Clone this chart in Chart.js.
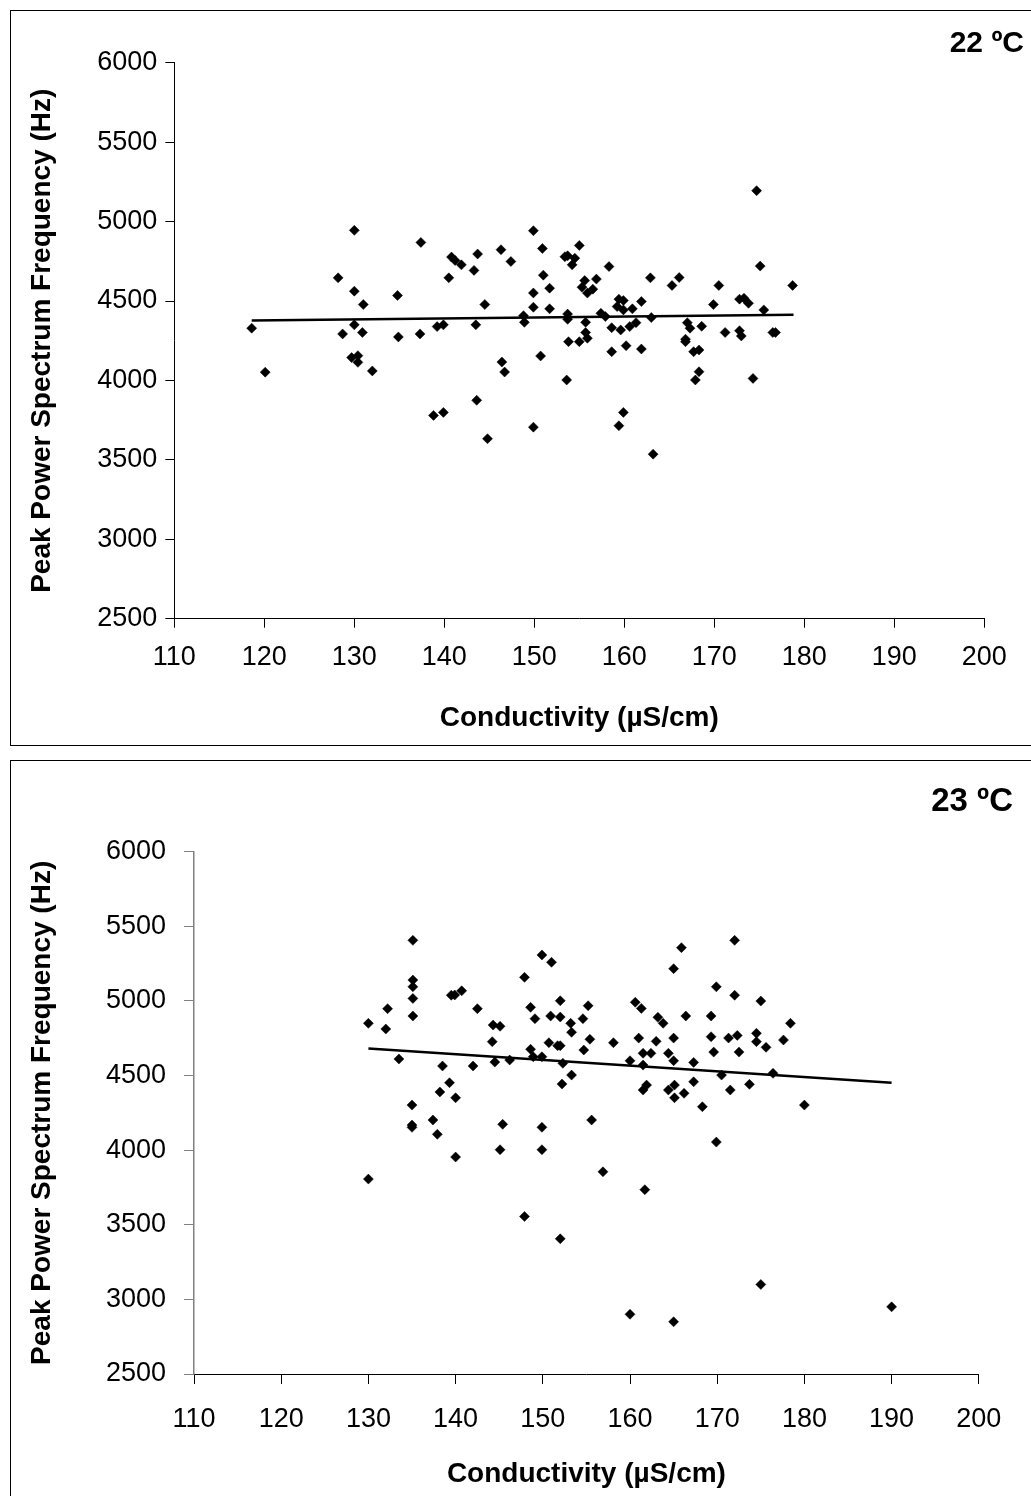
<!DOCTYPE html>
<html>
<head>
<meta charset="utf-8">
<script src="https://cdn.jsdelivr.net/npm/chart.js@4.4.1/dist/chart.umd.min.js"></script>
<style>
html,body{margin:0;padding:0;background:#fff;}
body{width:1031px;height:1496px;overflow:hidden;position:relative;}
.box{position:absolute;border:1px solid #000;box-sizing:border-box;background:#fff;}
#box1{left:10px;top:10px;width:1060px;height:736px;}
#box2{left:10px;top:760px;width:1060px;height:780px;}
canvas{position:absolute;left:0;}
#c1{top:0;}
#c2{top:760px;}
</style>
</head>
<body>
<div class="box" id="box1"></div>
<div class="box" id="box2"></div>
<canvas id="c1" width="1031" height="745"></canvas>
<canvas id="c2" width="1031" height="736"></canvas>
<script>
// ---- data ----
const xTicks = [110,120,130,140,150,160,170,180,190,200];
const yTicks = [2500,3000,3500,4000,4500,5000,5500,6000];

const topLabel = "22 ºC";
const topX = [118.6,120.1,128.2,128.7,129.7,130.0,130.0,130.0,130.4,130.4,
  130.9,131.0,132.0,134.8,134.9,137.3,137.4,138.8,139.2,139.9,
  139.9,140.5,140.8,141.2,141.9,143.3,143.5,143.6,143.7,144.5,
  144.8,146.3,146.4,146.7,147.4,148.8,148.9,149.9,149.9,149.9,
  149.9,150.7,150.9,151.0,151.7,151.7,153.4,153.6,153.7,153.7,
  153.7,153.8,154.2,154.5,155.0,155.0,155.3,155.6,155.7,155.7,
  155.9,155.9,156.5,156.9,157.4,157.9,158.3,158.6,158.6,159.2,
  159.4,159.4,159.6,159.9,159.9,159.9,160.2,160.6,160.9,161.3,
  161.9,161.9,162.9,163.0,163.2,165.3,166.1,166.8,166.8,167.0,
  167.3,167.7,167.9,168.3,168.3,168.6,169.9,170.5,171.2,172.8,
  172.8,173.0,173.3,173.8,174.3,174.7,175.1,175.5,176.5,176.8,178.7];
const topY = [4329,4052,4646,4293,4144,4945,4562,4350,4156,4114,
  4302,4478,4060,4535,4274,4293,4869,3780,4339,4350,
  3799,4646,4777,4755,4728,4693,4350,3875,4796,4478,
  3633,4823,4116,4053,4749,4408,4366,4943,4551,4461,
  3706,4154,4831,4663,4581,4451,4779,4003,4785,4418,
  4385,4244,4728,4770,4850,4244,4587,4629,4366,4302,
  4550,4266,4575,4638,4423,4402,4717,4332,4181,4465,
  4512,3715,4318,4503,4444,3799,4219,4339,4451,4364,
  4497,4198,4646,4396,3536,4598,4648,4260,4244,4364,
  4329,4181,4003,4192,4055,4341,4478,4598,4302,4512,
  4313,4280,4518,4486,4013,5195,4720,4444,4302,4302,4598];
const topTrendX = [118.6,178.8];
const topTrendY = [4377,4413];

const bottomLabel = "23 ºC";
const bottomX = [130.0,130.0,132.2,132.0,133.5,135.1,135.1,135.1,135.1,135.1,
  135.0,135.0,135.0,137.4,137.9,138.2,138.5,139.3,139.5,139.9,
  140.7,140.0,140.0,142.0,142.5,144.2,144.3,145.1,144.5,146.2,
  145.4,145.1,147.9,147.9,148.6,148.6,148.9,149.1,149.9,149.9,
  149.9,149.9,151.0,150.9,150.7,151.7,152.0,152.0,152.0,152.3,
  152.2,152.0,153.2,153.3,153.3,154.6,154.7,155.2,155.4,155.6,
  156.9,158.1,160.0,160.0,160.6,161.3,161.0,161.5,161.5,161.5,
  161.9,161.7,162.4,163.2,163.8,163.0,164.4,164.4,165.0,165.0,
  165.1,165.1,165.0,165.9,165.0,166.2,166.4,167.3,167.3,168.3,
  169.3,169.3,169.6,169.9,169.9,170.5,171.3,171.5,172.0,172.0,
  172.3,172.5,173.7,174.5,174.5,175.0,175.0,175.6,176.4,177.6,
  178.4,180.0,190.0];
const bottomY = [4850,3806,4948,4812,4611,5406,5140,5095,5017,4899,
  4302,4168,4153,4202,4106,4390,4564,4452,5038,5040,
  5068,4351,3954,4564,4948,4727,4838,4830,4590,4604,
  4173,4003,5158,3556,4957,4676,4626,4881,5308,4626,
  4153,4003,5259,4899,4720,4700,4700,5001,4892,4582,
  4443,3406,4850,4790,4503,4881,4671,4968,4743,4202,
  3855,4720,4599,2900,4991,4950,4751,4649,4570,4403,
  4436,3735,4649,4890,4850,4729,4649,4403,4751,4599,
  4436,4351,5216,5357,2850,4381,4899,4588,4458,4291,
  4899,4760,4657,5095,4054,4503,4751,4403,5406,5038,
  4769,4657,4441,4783,4727,4999,3100,4689,4515,4738,
  4850,4302,2950];
const bottomTrendX = [130,190];
const bottomTrendY = [4682,4452];

const xTitle = "Conductivity (µS/cm)";
const yTitle = "Peak Power Spectrum Frequency (Hz)";

// ---- chart construction ----
const FONT = "'Liberation Sans', Arial, sans-serif";

const cornerLabel = {
  id: 'cornerLabel',
  afterDraw(chart, args, o) {
    const ctx = chart.ctx;
    ctx.save();
    ctx.font = 'bold ' + o.size + 'px ' + FONT;
    ctx.fillStyle = '#000';
    ctx.textAlign = 'right';
    ctx.textBaseline = 'middle';
    ctx.fillText(o.text, o.x, o.y);
    ctx.restore();
  }
};

function pts(xs, ys) { return xs.map((x, i) => ({x: x, y: ys[i]})); }

function build(id, xs, ys, tx, ty, label, L) {
  new Chart(document.getElementById(id), {
    type: 'scatter',
    data: {
      datasets: [
        {
          data: pts(xs, ys),
          pointStyle: 'rectRot',
          pointRadius: 5,
          pointHoverRadius: 5,
          backgroundColor: '#000',
          borderColor: '#000',
          borderWidth: 0.5
        },
        {
          data: pts(tx, ty),
          showLine: true,
          pointRadius: 0,
          borderColor: '#000',
          borderWidth: 2.5,
          fill: false
        }
      ]
    },
    options: {
      responsive: false,
      animation: false,
      events: [],
      layout: { padding: { top: L.top, right: L.right, left: 0, bottom: 0 } },
      plugins: {
        legend: { display: false },
        tooltip: { enabled: false },
        cornerLabel: { text: label, x: L.labelX, y: L.labelY, size: L.labelSize }
      },
      scales: {
        x: {
          type: 'linear',
          position: 'bottom',
          min: xTicks[0],
          max: xTicks[xTicks.length - 1],
          afterBuildTicks(s) { s.ticks = xTicks.map(v => ({value: v})); },
          afterFit(s) { s.height = L.xHeight; },
          ticks: { font: { family: FONT, size: L.tickSize }, color: '#000', padding: L.xTickPad, maxRotation: 0,
                   callback: v => String(v) },
          grid: { display: true, drawOnChartArea: false, drawTicks: true, tickLength: L.tickLen, color: '#000', tickColor: '#000', tickWidth: 1 },
          border: { display: true, color: '#000', width: 1 },
          title: { display: true, text: xTitle, color: '#000', font: { family: FONT, size: L.titleSize, weight: 'bold' }, padding: { top: 0, bottom: L.xTitlePad } }
        },
        y: {
          type: 'linear',
          min: yTicks[0],
          max: yTicks[yTicks.length - 1],
          afterBuildTicks(s) { s.ticks = yTicks.map(v => ({value: v})); },
          afterFit(s) { s.width = L.yWidth; },
          ticks: { font: { family: FONT, size: L.tickSize }, color: '#000', padding: L.yTickPad,
                   callback: v => String(v) },
          grid: { display: true, drawOnChartArea: false, drawTicks: true, tickLength: L.tickLen, color: L.yColor, tickColor: L.yColor, tickWidth: 1 },
          border: { display: true, color: L.yColor, width: L.yAxisWidth },
          title: { display: true, text: yTitle, color: '#000', font: { family: FONT, size: L.titleSize, weight: 'bold' }, padding: { top: L.yTitlePad, bottom: 0 } }
        }
      }
    },
    plugins: [cornerLabel]
  });
}

build('c1', topX, topY, topTrendX, topTrendY, topLabel, {
  top: 62.8, right: 46.7, xHeight: 126.3, yWidth: 174.3,
  tickSize: 27, titleSize: 28, tickLen: 9,
  xTickPad: 14, yTickPad: 8, xTitlePad: 10, yTitlePad: 25,
  yColor: '#000', yAxisWidth: 1,
  labelX: 1024, labelY: 44, labelSize: 30
});

build('c2', bottomX, bottomY, bottomTrendX, bottomTrendY, bottomLabel, {
  top: 91.7, right: 52.2, xHeight: 122, yWidth: 194,
  tickSize: 27, titleSize: 28, tickLen: 10,
  xTickPad: 19, yTickPad: 18, xTitlePad: 5, yTitlePad: 25,
  yColor: '#808080', yAxisWidth: 1.5,
  labelX: 1013, labelY: 42, labelSize: 33
});
</script>
</body>
</html>
